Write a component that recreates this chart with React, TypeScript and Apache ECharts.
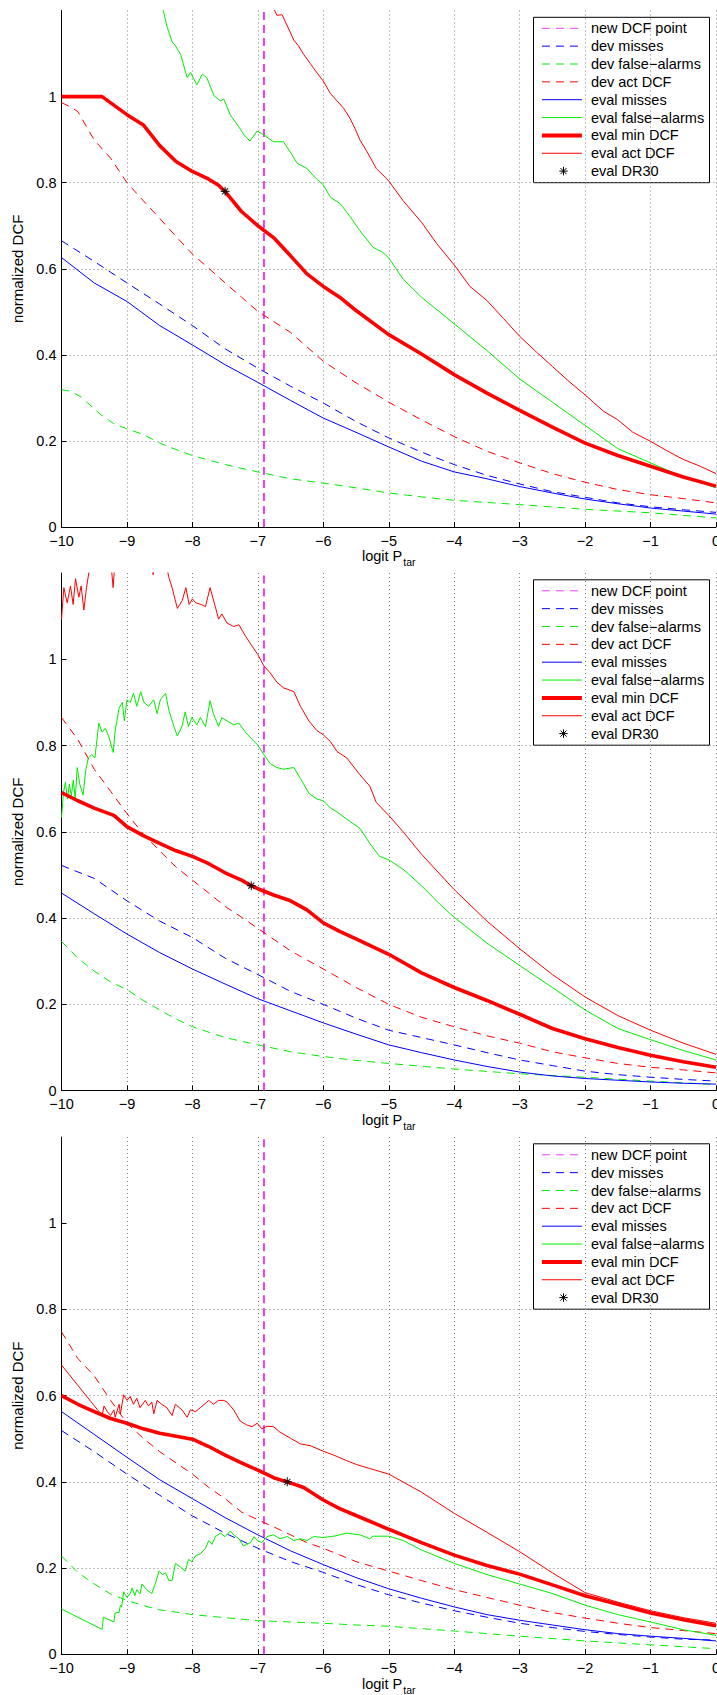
import React, { useEffect, useRef } from "react";
import * as echarts from "echarts";

type Pt = [number, number];

// ---- axis ticks and legend labels ----
const Y_TICKS = [0, 0.2, 0.4, 0.6, 0.8, 1];
const LEGEND_LABELS = [
  "new DCF point",
  "dev misses",
  "dev false\u2212alarms",
  "dev act DCF",
  "eval misses",
  "eval false\u2212alarms",
  "eval min DCF",
  "eval act DCF",
  "eval DR30",
];

// logit of the new operating point P_tar = 0.001
const NEW_DCF_X = -6.907;
const newDcfLine: Pt[] = [
  [NEW_DCF_X, 0],
  [NEW_DCF_X, 1.2],
];

// ---- panel 1 ----
const p1DevMisses: Pt[] = [
  [-10, 0.665], [-9.5, 0.617], [-9, 0.567], [-8.5, 0.518], [-8, 0.468], [-7.5, 0.414],
  [-7, 0.369], [-6.5, 0.327], [-6, 0.288], [-5.5, 0.245], [-5, 0.207], [-4.5, 0.174],
  [-4, 0.145], [-3.5, 0.12], [-3, 0.1], [-2.5, 0.082], [-2, 0.069], [-1.5, 0.056],
  [-1, 0.047], [-0.5, 0.04], [0, 0.034],
];
const p1DevFa: Pt[] = [
  [-10, 0.319], [-9.85, 0.315], [-9.7, 0.302], [-9.4, 0.261], [-9.2, 0.24], [-9, 0.228],
  [-8.75, 0.215], [-8.5, 0.195], [-8.25, 0.18], [-8, 0.166], [-7.5, 0.145], [-7, 0.128],
  [-6.5, 0.112], [-6, 0.102], [-5.5, 0.091], [-5, 0.079], [-4.5, 0.07], [-4, 0.062],
  [-3, 0.052], [-2, 0.041], [-1, 0.033], [0, 0.021],
];
const p1DevAct: Pt[] = [
  [-10, 0.986], [-9.85, 0.975], [-9.75, 0.965], [-9.5, 0.899], [-9.25, 0.857], [-9, 0.8],
  [-8.75, 0.758], [-8.5, 0.717], [-8.25, 0.675], [-8, 0.634], [-7.75, 0.601], [-7.5, 0.567],
  [-7.25, 0.534], [-7, 0.501], [-6.5, 0.452], [-6, 0.385], [-5.5, 0.335], [-5, 0.29],
  [-4.5, 0.249], [-4, 0.21], [-3.5, 0.176], [-3, 0.149], [-2.5, 0.124], [-2, 0.104],
  [-1.5, 0.087], [-1, 0.075], [-0.5, 0.066], [0, 0.056],
];
const p1EvalMisses: Pt[] = [
  [-10, 0.626], [-9.5, 0.567], [-9, 0.524], [-8.5, 0.468], [-8, 0.423], [-7.5, 0.377],
  [-7, 0.336], [-6.5, 0.294], [-6, 0.253], [-5.5, 0.22], [-5, 0.186], [-4.5, 0.153],
  [-4, 0.128], [-3.5, 0.112], [-3, 0.094], [-2.5, 0.079], [-2, 0.065], [-1.5, 0.054],
  [-1, 0.044], [-0.5, 0.037], [0, 0.03],
];
const p1EvalFa: Pt[] = [
  [-8.47, 1.22], [-8.44, 1.197], [-8.39, 1.164], [-8.31, 1.127], [-8.26, 1.118], [-8.18, 1.098],
  [-8.08, 1.044], [-8.03, 1.056], [-7.93, 1.027], [-7.85, 1.052], [-7.78, 1.044], [-7.67, 1.002],
  [-7.57, 0.99], [-7.52, 0.994], [-7.42, 0.957], [-7.32, 0.936], [-7.19, 0.907], [-7.12, 0.897],
  [-7.01, 0.92], [-6.91, 0.911], [-6.76, 0.895], [-6.61, 0.895], [-6.5, 0.87], [-6.4, 0.845],
  [-6.25, 0.833], [-6.1, 0.808], [-6, 0.795], [-5.89, 0.766], [-5.74, 0.751], [-5.59, 0.721],
  [-5.44, 0.688], [-5.24, 0.65], [-5.09, 0.638], [-5, 0.625], [-4.78, 0.576], [-4.5, 0.534],
  [-4, 0.472], [-3.5, 0.41], [-3, 0.344], [-2.5, 0.29], [-2, 0.236], [-1.5, 0.182],
  [-1, 0.149], [-0.5, 0.116], [0, 0.091],
];
const p1EvalMin: Pt[] = [
  [-10, 1], [-9.38, 1], [-9, 0.958], [-8.75, 0.934], [-8.5, 0.886], [-8.25, 0.849], [-8, 0.826],
  [-7.75, 0.808], [-7.6, 0.794], [-7.5, 0.779], [-7.25, 0.733], [-7, 0.7], [-6.75, 0.671],
  [-6.5, 0.63], [-6.25, 0.588], [-6, 0.559], [-5.75, 0.534], [-5.5, 0.503], [-5, 0.447],
  [-4.5, 0.402], [-4, 0.354], [-3.5, 0.311], [-3, 0.271], [-2.5, 0.232], [-2, 0.195],
  [-1.5, 0.166], [-1, 0.141], [-0.5, 0.116], [0, 0.095],
];
const p1EvalAct: Pt[] = [
  [-6.8, 1.22], [-6.71, 1.189], [-6.63, 1.19], [-6.55, 1.164], [-6.45, 1.131], [-6.38, 1.118],
  [-6.3, 1.098], [-6.2, 1.077], [-6.12, 1.06], [-6, 1.036], [-5.89, 1.007], [-5.79, 0.99],
  [-5.69, 0.973], [-5.59, 0.949], [-5.51, 0.924], [-5.44, 0.899], [-5.34, 0.874], [-5.19, 0.833],
  [-5, 0.804], [-4.78, 0.758], [-4.5, 0.708], [-4.27, 0.659], [-4, 0.609], [-3.76, 0.559],
  [-3.5, 0.526], [-3.25, 0.485], [-3, 0.443], [-2.74, 0.406], [-2.5, 0.373], [-2.23, 0.336],
  [-2, 0.307], [-1.72, 0.269], [-1.5, 0.249], [-1.27, 0.22], [-1, 0.199], [-0.76, 0.178],
  [-0.5, 0.157], [-0.24, 0.141], [0, 0.124],
];
const p1Dr30: Pt[] = [[-7.5, 0.78]];

// ---- panel 2 ----
const p2DevMisses: Pt[] = [
  [-10, 0.522], [-9.5, 0.492], [-9, 0.44], [-8.5, 0.393], [-8, 0.355], [-7.5, 0.307],
  [-7, 0.269], [-6.5, 0.23], [-6, 0.2], [-5.5, 0.168], [-5, 0.14], [-4.5, 0.123],
  [-4, 0.106], [-3.5, 0.088], [-3, 0.071], [-2.5, 0.058], [-2, 0.045], [-1.5, 0.037],
  [-1, 0.031], [-0.5, 0.026], [0, 0.022],
];
const p2DevFa: Pt[] = [
  [-10, 0.346], [-9.75, 0.307], [-9.5, 0.277], [-9.25, 0.252], [-9, 0.234], [-8.75, 0.209],
  [-8.5, 0.187], [-8.25, 0.166], [-8, 0.148], [-7.5, 0.123], [-7, 0.106], [-6.5, 0.09],
  [-6, 0.079], [-5.5, 0.07], [-5, 0.063], [-4, 0.05], [-3, 0.039], [-2, 0.031],
  [-1, 0.022], [0, 0.014],
];
const p2DevAct: Pt[] = [
  [-10, 0.865], [-9.75, 0.814], [-9.5, 0.745], [-9.25, 0.694], [-9, 0.642], [-8.75, 0.595],
  [-8.5, 0.556], [-8.25, 0.518], [-8, 0.488], [-7.75, 0.458], [-7.5, 0.427], [-7.25, 0.402],
  [-7, 0.376], [-6.75, 0.35], [-6.5, 0.324], [-6, 0.282], [-5.5, 0.239], [-5, 0.2],
  [-4.5, 0.17], [-4, 0.148], [-3.5, 0.127], [-3, 0.11], [-2.5, 0.09], [-2, 0.076],
  [-1.5, 0.063], [-1, 0.054], [-0.5, 0.048], [0, 0.041],
];
const p2EvalMisses: Pt[] = [
  [-10, 0.458], [-9.5, 0.41], [-9, 0.363], [-8.5, 0.32], [-8, 0.282], [-7.5, 0.247],
  [-7, 0.213], [-6.5, 0.185], [-6, 0.157], [-5.5, 0.131], [-5, 0.106], [-4.5, 0.088],
  [-4, 0.071], [-3.5, 0.056], [-3, 0.043], [-2.5, 0.034], [-2, 0.028], [-1.5, 0.024],
  [-1, 0.02], [-0.5, 0.017], [0, 0.015],
];
const p2EvalFa: Pt[] = [
  [-10, 0.633], [-9.97, 0.69], [-9.94, 0.715], [-9.91, 0.676], [-9.88, 0.711], [-9.85, 0.683],
  [-9.82, 0.72], [-9.79, 0.676], [-9.76, 0.749], [-9.72, 0.71], [-9.67, 0.685], [-9.63, 0.742],
  [-9.59, 0.771], [-9.54, 0.779], [-9.49, 0.771], [-9.43, 0.852], [-9.38, 0.831], [-9.33, 0.84],
  [-9.28, 0.822], [-9.21, 0.784], [-9.18, 0.835], [-9.12, 0.887], [-9.07, 0.9], [-9.04, 0.857],
  [-9, 0.906], [-8.95, 0.9], [-8.9, 0.921], [-8.85, 0.891], [-8.79, 0.925], [-8.74, 0.9],
  [-8.67, 0.891], [-8.59, 0.906], [-8.54, 0.874], [-8.49, 0.906], [-8.41, 0.921], [-8.36, 0.882],
  [-8.29, 0.848], [-8.23, 0.822], [-8.16, 0.844], [-8.11, 0.878], [-8.06, 0.844], [-8.01, 0.865],
  [-7.93, 0.848], [-7.88, 0.865], [-7.8, 0.844], [-7.73, 0.904], [-7.68, 0.874], [-7.6, 0.844],
  [-7.55, 0.865], [-7.47, 0.857], [-7.37, 0.848], [-7.29, 0.852], [-7.19, 0.831], [-7.06, 0.81],
  [-7, 0.801], [-6.91, 0.779], [-6.81, 0.758], [-6.71, 0.749], [-6.61, 0.745], [-6.45, 0.749],
  [-6.35, 0.724], [-6.22, 0.689], [-6.1, 0.676], [-6, 0.672], [-5.89, 0.655], [-5.79, 0.646],
  [-5.64, 0.629], [-5.44, 0.608], [-5.29, 0.573], [-5.14, 0.543], [-5, 0.535], [-4.78, 0.513],
  [-4.5, 0.475], [-4.22, 0.432], [-4, 0.402], [-3.5, 0.342], [-3, 0.29], [-2.5, 0.239],
  [-2, 0.187], [-1.5, 0.144], [-1, 0.118], [-0.5, 0.093], [0, 0.071],
];
const p2EvalMin: Pt[] = [
  [-10, 0.691], [-9.75, 0.672], [-9.5, 0.655], [-9.2, 0.638], [-9, 0.612], [-8.75, 0.591],
  [-8.5, 0.573], [-8.25, 0.556], [-8, 0.543], [-7.75, 0.526], [-7.5, 0.505], [-7.25, 0.488],
  [-7.1, 0.475], [-7, 0.468], [-6.75, 0.453], [-6.5, 0.44], [-6.25, 0.419], [-6, 0.389],
  [-5.75, 0.369], [-5.5, 0.352], [-5, 0.316], [-4.5, 0.273], [-4, 0.239], [-3.5, 0.209],
  [-3, 0.177], [-2.5, 0.144], [-2, 0.12], [-1.5, 0.1], [-1, 0.082], [-0.5, 0.067], [0, 0.054],
];
const p2EvalAct: Pt[] = [
  [-10, 1.093], [-9.964, 1.166], [-9.913, 1.131], [-9.863, 1.17], [-9.822, 1.127], [-9.786, 1.187],
  [-9.735, 1.144], [-9.7, 1.17], [-9.659, 1.114], [-9.618, 1.166], [-9.583, 1.2], [-9.56, 1.24],
  [-9.3, 1.26], [-9.237, 1.21], [-9.211, 1.166], [-9.186, 1.22], [-9.15, 1.27], [-8.64, 1.26],
  [-8.6, 1.196], [-8.57, 1.24], [-8.42, 1.25], [-8.387, 1.21], [-8.36, 1.19], [-8.31, 1.166],
  [-8.23, 1.118], [-8.155, 1.136], [-8.1, 1.166], [-8.05, 1.127], [-8, 1.14], [-7.95, 1.131],
  [-7.87, 1.127], [-7.8, 1.122], [-7.73, 1.166], [-7.65, 1.122], [-7.6, 1.093], [-7.55, 1.105],
  [-7.47, 1.084], [-7.37, 1.076], [-7.29, 1.08], [-7.19, 1.054], [-7.06, 1.024], [-7, 1.011],
  [-6.91, 0.985], [-6.81, 0.968], [-6.71, 0.947], [-6.61, 0.934], [-6.45, 0.925], [-6.35, 0.891],
  [-6.22, 0.857], [-6.1, 0.835], [-6, 0.825], [-5.89, 0.809], [-5.79, 0.786], [-5.64, 0.771],
  [-5.44, 0.732], [-5.29, 0.706], [-5.19, 0.668], [-5, 0.638], [-4.78, 0.6], [-4.5, 0.548],
  [-4, 0.466], [-3.5, 0.393], [-3, 0.329], [-2.5, 0.269], [-2, 0.217], [-1.5, 0.174],
  [-1, 0.14], [-0.5, 0.11], [0, 0.084],
];
const p2Dr30: Pt[] = [[-7.1, 0.475]];

// ---- panel 3 ----
const p3DevMisses: Pt[] = [
  [-10, 0.519], [-9.5, 0.47], [-9, 0.418], [-8.5, 0.369], [-8, 0.321], [-7.5, 0.281],
  [-7, 0.246], [-6.5, 0.215], [-6, 0.19], [-5.5, 0.162], [-5, 0.138], [-4.5, 0.119],
  [-4, 0.101], [-3.5, 0.086], [-3, 0.072], [-2.5, 0.062], [-2, 0.053], [-1.5, 0.046],
  [-1, 0.04], [-0.5, 0.035], [0, 0.033],
];
const p3DevFa: Pt[] = [
  [-10, 0.228], [-9.75, 0.19], [-9.5, 0.163], [-9.25, 0.14], [-9, 0.125], [-8.75, 0.113],
  [-8.5, 0.103], [-8.25, 0.098], [-8, 0.092], [-7.5, 0.085], [-7, 0.078], [-6.5, 0.075],
  [-6, 0.072], [-5.5, 0.068], [-5, 0.065], [-4, 0.054], [-3, 0.042], [-2, 0.031],
  [-1, 0.022], [0, 0.013],
];
const p3DevAct: Pt[] = [
  [-10, 0.748], [-9.75, 0.686], [-9.5, 0.646], [-9.25, 0.589], [-9, 0.536], [-8.75, 0.501],
  [-8.5, 0.47], [-8.25, 0.444], [-8, 0.418], [-7.75, 0.387], [-7.5, 0.361], [-7.25, 0.33],
  [-7, 0.312], [-6.75, 0.295], [-6.5, 0.277], [-6.25, 0.259], [-6, 0.246], [-5.5, 0.215],
  [-5, 0.193], [-4.5, 0.171], [-4, 0.15], [-3.5, 0.132], [-3, 0.114], [-2.5, 0.097],
  [-2, 0.084], [-1.5, 0.072], [-1, 0.062], [-0.5, 0.055], [0, 0.048],
];
const p3EvalMisses: Pt[] = [
  [-10, 0.563], [-9.5, 0.51], [-9, 0.457], [-8.5, 0.405], [-8, 0.361], [-7.5, 0.317],
  [-7, 0.277], [-6.5, 0.24], [-6, 0.208], [-5.5, 0.178], [-5, 0.152], [-4.5, 0.13],
  [-4, 0.11], [-3.5, 0.092], [-3, 0.079], [-2.5, 0.068], [-2, 0.057], [-1.5, 0.048],
  [-1, 0.042], [-0.5, 0.037], [0, 0.031],
];
const p3EvalFa: Pt[] = [
  [-10, 0.105], [-9.7, 0.082], [-9.38, 0.058], [-9.36, 0.086], [-9.2, 0.075], [-9.18, 0.096],
  [-9.12, 0.097], [-9.1, 0.114], [-9.08, 0.11], [-9.05, 0.145], [-9, 0.132], [-8.95, 0.141],
  [-8.92, 0.154], [-8.88, 0.136], [-8.85, 0.15], [-8.8, 0.14], [-8.77, 0.163], [-8.7, 0.15],
  [-8.62, 0.141], [-8.56, 0.167], [-8.51, 0.193], [-8.46, 0.185], [-8.41, 0.189], [-8.36, 0.171],
  [-8.31, 0.171], [-8.26, 0.211], [-8.18, 0.202], [-8.11, 0.193], [-8.06, 0.22], [-8.01, 0.215],
  [-7.95, 0.229], [-7.88, 0.233], [-7.8, 0.246], [-7.75, 0.264], [-7.7, 0.255], [-7.65, 0.273],
  [-7.57, 0.281], [-7.5, 0.273], [-7.42, 0.286], [-7.37, 0.277], [-7.29, 0.268], [-7.22, 0.251],
  [-7.17, 0.255], [-7.11, 0.259], [-7.06, 0.273], [-7.01, 0.264], [-6.94, 0.259], [-6.86, 0.273],
  [-6.76, 0.277], [-6.66, 0.268], [-6.55, 0.273], [-6.45, 0.264], [-6.35, 0.268], [-6.25, 0.264],
  [-6.15, 0.273], [-6, 0.271], [-5.84, 0.274], [-5.64, 0.281], [-5.44, 0.277], [-5.29, 0.268],
  [-5.24, 0.274], [-5, 0.274], [-4.78, 0.264], [-4.5, 0.242], [-4, 0.211], [-3.5, 0.185],
  [-3, 0.163], [-2.5, 0.141], [-2, 0.114], [-1.5, 0.092], [-1, 0.075], [-0.5, 0.057], [0, 0.044],
];
const p3EvalMin: Pt[] = [
  [-10, 0.6], [-9.75, 0.58], [-9.5, 0.563], [-9.25, 0.547], [-9, 0.536], [-8.75, 0.523],
  [-8.5, 0.513], [-8.25, 0.506], [-8, 0.499], [-7.75, 0.482], [-7.5, 0.462], [-7.25, 0.444],
  [-7, 0.427], [-6.75, 0.409], [-6.55, 0.4], [-6.3, 0.387], [-6, 0.358], [-5.75, 0.338],
  [-5.5, 0.322], [-5, 0.29], [-4.5, 0.259], [-4, 0.23], [-3.5, 0.206], [-3, 0.186],
  [-2.5, 0.161], [-2, 0.136], [-1.5, 0.116], [-1, 0.096], [-0.5, 0.08], [0, 0.066],
];
const p3EvalAct: Pt[] = [
  [-10, 0.671], [-9.38, 0.554], [-9.35, 0.576], [-9.3, 0.563], [-9.25, 0.554], [-9.2, 0.567],
  [-9.18, 0.55], [-9.12, 0.58], [-9.1, 0.558], [-9.05, 0.602], [-9, 0.589], [-8.95, 0.598],
  [-8.9, 0.58], [-8.85, 0.594], [-8.8, 0.572], [-8.72, 0.589], [-8.67, 0.576], [-8.62, 0.585],
  [-8.59, 0.558], [-8.54, 0.589], [-8.47, 0.58], [-8.39, 0.572], [-8.31, 0.554], [-8.26, 0.58],
  [-8.16, 0.567], [-8.08, 0.55], [-8.03, 0.567], [-7.95, 0.563], [-7.88, 0.572], [-7.75, 0.589],
  [-7.68, 0.58], [-7.6, 0.589], [-7.52, 0.589], [-7.47, 0.585], [-7.37, 0.567], [-7.27, 0.541],
  [-7.17, 0.532], [-7.09, 0.528], [-7.01, 0.536], [-6.94, 0.523], [-6.86, 0.529], [-6.76, 0.528],
  [-6.66, 0.515], [-6.5, 0.501], [-6.35, 0.488], [-6.2, 0.484], [-6, 0.471], [-5.84, 0.462],
  [-5.64, 0.449], [-5.49, 0.44], [-5.29, 0.431], [-5, 0.418], [-4.5, 0.376], [-4, 0.327],
  [-3.5, 0.283], [-3, 0.238], [-2.5, 0.189], [-2, 0.143], [-1.5, 0.121], [-1, 0.101],
  [-0.5, 0.085], [0, 0.072],
];
const p3Dr30: Pt[] = [[-6.55, 0.4]];

const panelData = [
  { devMisses: p1DevMisses, devFa: p1DevFa, devAct: p1DevAct, evalMisses: p1EvalMisses, evalFa: p1EvalFa, evalMin: p1EvalMin, evalAct: p1EvalAct, dr30: p1Dr30 },
  { devMisses: p2DevMisses, devFa: p2DevFa, devAct: p2DevAct, evalMisses: p2EvalMisses, evalFa: p2EvalFa, evalMin: p2EvalMin, evalAct: p2EvalAct, dr30: p2Dr30 },
  { devMisses: p3DevMisses, devFa: p3DevFa, devAct: p3DevAct, evalMisses: p3EvalMisses, evalFa: p3EvalFa, evalMin: p3EvalMin, evalAct: p3EvalAct, dr30: p3Dr30 },
];

// ---- layout and styling ----
const FONT = '"Liberation Sans", Arial, Helvetica, sans-serif';
const PLOT_LEFT = 61.5;
const PLOT_WIDTH = 654.5;
const PANEL_TOPS = [10.5, 573, 1137];
const PANEL_HEIGHTS = [516.5, 517.6, 517.3];
const MAGENTA = "#f03cf0";
const BLUE = "#0000ff";
const GREEN = "#00ee00";
const RED = "#ff0000";
const DASH = [8, 6];
const ASTERISK = "path://M5 0V10M0 5H10M1.6 1.6L8.4 8.4M1.6 8.4L8.4 1.6";

const legendStyles = [
  { color: MAGENTA, width: 1, dash: DASH },
  { color: BLUE, width: 1, dash: DASH },
  { color: GREEN, width: 1, dash: DASH },
  { color: RED, width: 1, dash: DASH },
  { color: BLUE, width: 1, dash: null },
  { color: GREEN, width: 1, dash: null },
  { color: RED, width: 4, dash: null },
  { color: RED, width: 1, dash: null },
  null,
];

function buildLegend(top: number) {
  const boxW = 176;
  const boxH = 165.4;
  const children: any[] = [
    {
      type: "rect",
      shape: { x: 0, y: 0, width: boxW, height: boxH },
      style: { fill: "#ffffff", stroke: "#000000", lineWidth: 1 },
    },
  ];
  LEGEND_LABELS.forEach((label, j) => {
    const yy = 11 + j * 17.85;
    const st = legendStyles[j];
    if (st) {
      children.push({
        type: "line",
        shape: { x1: 8.4, y1: yy, x2: 48.4, y2: yy },
        style: { stroke: st.color, lineWidth: st.width, lineDash: st.dash || undefined },
      });
    } else {
      const r = 4.2;
      const d = r * 0.72;
      const segs = [
        [0, -r, 0, r],
        [-r, 0, r, 0],
        [-d, -d, d, d],
        [-d, d, d, -d],
      ];
      segs.forEach((s) =>
        children.push({
          type: "line",
          shape: { x1: 30 + s[0], y1: yy + s[1], x2: 30 + s[2], y2: yy + s[3] },
          style: { stroke: "#000000", lineWidth: 1 },
        })
      );
    }
    children.push({
      type: "text",
      x: 57.4,
      y: yy,
      style: {
        text: label,
        fill: "#000000",
        fontSize: 14.5,
        fontFamily: FONT,
        align: "left",
        verticalAlign: "middle",
      },
    });
  });
  return { type: "group", x: 533.5, y: top + 6.8, z: 100, children };
}

function fmtX(v: number) {
  return v < 0 ? "\u2212" + Math.abs(v) : "0";
}
function fmtY(v: number) {
  if (v > 1.1) return "";
  return String(Math.round(v * 10) / 10);
}

function buildOption() {
  const grid: any[] = [];
  const xAxis: any[] = [];
  const yAxis: any[] = [];
  const series: any[] = [];
  const graphic: any[] = [];

  PANEL_TOPS.forEach((top, i) => {
    grid.push({
      left: PLOT_LEFT,
      top,
      width: PLOT_WIDTH,
      height: PANEL_HEIGHTS[i],
      containLabel: false,
      outerBoundsMode: "none",
    });
    const gridLine = { color: "#808080", width: 1, type: [1, 3] };
    xAxis.push({
      type: "value",
      gridIndex: i,
      min: -10,
      max: 0,
      interval: 1,
      axisLine: { show: true, onZero: false, lineStyle: { color: "#000", width: 1 } },
      axisTick: { show: true, inside: true, length: 5, lineStyle: { color: "#000" } },
      axisLabel: { margin: 6, color: "#000", fontSize: 14.5, fontFamily: FONT, formatter: fmtX },
      splitLine: { show: true, showMinLine: false, lineStyle: gridLine },
      name: "{a|logit P}{b|tar}",
      nameLocation: "middle",
      nameGap: 19,
      nameTextStyle: {
        color: "#000",
        fontFamily: FONT,
        rich: {
          a: { fontSize: 14.5, fontFamily: FONT, color: "#000", verticalAlign: "top", lineHeight: 16 },
          b: { fontSize: 10.5, fontFamily: FONT, color: "#000", verticalAlign: "top", lineHeight: 12, padding: [8, 0, 0, 1] },
        },
      },
    });
    yAxis.push({
      type: "value",
      gridIndex: i,
      min: 0,
      max: 1.2,
      interval: 0.2,
      axisLine: { show: true, onZero: false, lineStyle: { color: "#000", width: 1 } },
      axisTick: { show: true, inside: true, length: 5, lineStyle: { color: "#000" }, customValues: Y_TICKS },
      axisLabel: { margin: 5, color: "#000", fontSize: 14.5, fontFamily: FONT, formatter: fmtY, customValues: Y_TICKS },
      splitLine: { show: true, showMinLine: false, showMaxLine: false, lineStyle: gridLine },
      name: "normalized DCF",
      nameLocation: "middle",
      nameGap: 21,
      nameTextStyle: { color: "#000", fontSize: 15, fontFamily: FONT },
    });

    const d = panelData[i];
    const line = (name: string, data: Pt[], color: string, width: number, dash: number[] | null) => ({
      type: "line",
      name,
      xAxisIndex: i,
      yAxisIndex: i,
      data,
      symbol: "none",
      showSymbol: false,
      silent: true,
      clip: true,
      lineStyle: { color, width, type: dash || "solid" },
    });
    series.push(line("new DCF point", newDcfLine, MAGENTA, 2, [8, 5]));
    series.push(line("dev misses", d.devMisses, BLUE, 1, DASH));
    series.push(line("dev false-alarms", d.devFa, GREEN, 1, DASH));
    series.push(line("dev act DCF", d.devAct, RED, 1, DASH));
    series.push(line("eval misses", d.evalMisses, BLUE, 1, null));
    series.push(line("eval false-alarms", d.evalFa, GREEN, 1, null));
    series.push(line("eval min DCF", d.evalMin, RED, 3.6, null));
    series.push(line("eval act DCF", d.evalAct, RED, 1, null));
    series.push({
      type: "scatter",
      name: "eval DR30",
      xAxisIndex: i,
      yAxisIndex: i,
      data: d.dr30,
      symbol: ASTERISK,
      symbolSize: 9,
      silent: true,
      z: 5,
      itemStyle: { color: "rgba(0,0,0,0)", borderColor: "#000", borderWidth: 1.2 },
    });

    graphic.push(buildLegend(top));
  });

  return {
    animation: false,
    backgroundColor: "#ffffff",
    grid,
    xAxis,
    yAxis,
    series,
    graphic,
  };
}

export default function App() {
  const ref = useRef<HTMLDivElement | null>(null);
  useEffect(() => {
    if (!ref.current) return;
    const chart = echarts.init(ref.current, null, { renderer: "svg" });
    chart.setOption(buildOption() as any);
    return () => chart.dispose();
  }, []);
  return (
    <div
      ref={ref}
      style={{ position: "absolute", left: 0, top: 0, width: 717, height: 1695, background: "#fff" }}
    />
  );
}
